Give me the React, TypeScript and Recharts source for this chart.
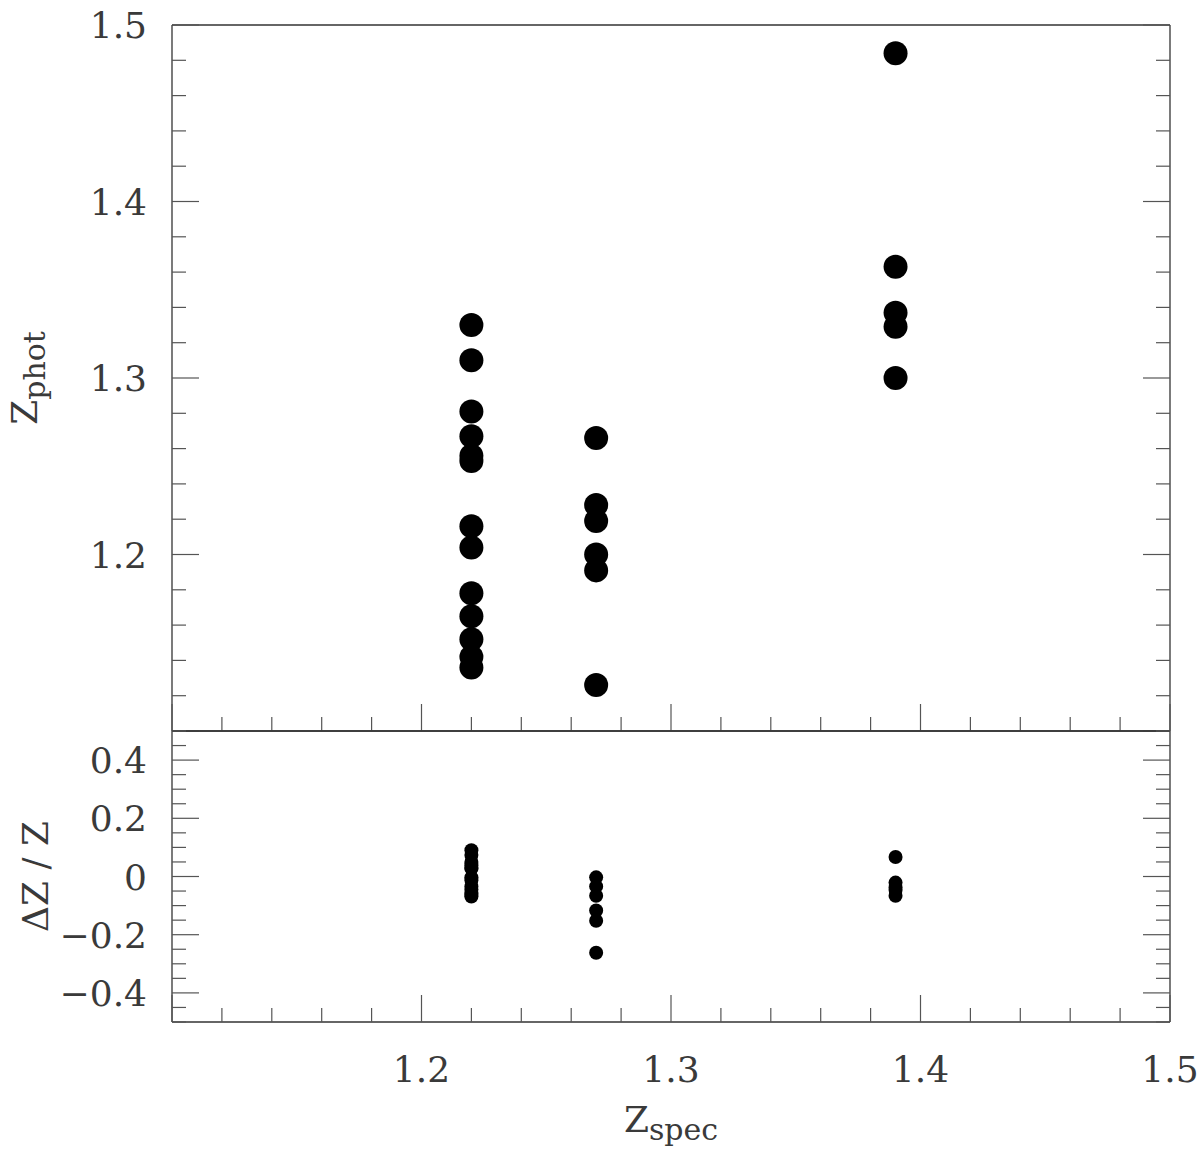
import React from "react";
import { ScatterChart, Scatter, XAxis, YAxis, Label } from "recharts";

// spectroscopic redshifts of the three groups
const zspecGroups = [1.22, 1.27, 1.39];

// photometric redshifts
const zphotAt122 = [1.33, 1.31, 1.281, 1.267, 1.256, 1.253, 1.216, 1.204, 1.178, 1.165, 1.152, 1.142, 1.136];
const zphotAt127 = [1.266, 1.228, 1.219, 1.2, 1.191, 1.126];
const zphotAt139 = [1.484, 1.363, 1.337, 1.329, 1.3];

// residuals
const dzAt122 = [0.09, 0.074, 0.05, 0.039, 0.03, 0.027, -0.003, -0.013, -0.034, -0.045, -0.056, -0.064, -0.069];
const dzAt127 = [-0.003, -0.034, -0.066, -0.117, -0.152, -0.262];
const dzAt139 = [0.067, -0.021, -0.038, -0.046, -0.066];

const zTicks = [1.1, 1.12, 1.14, 1.16, 1.18, 1.2, 1.22, 1.24, 1.26, 1.28, 1.3, 1.32, 1.34, 1.36, 1.38, 1.4, 1.42, 1.44, 1.46, 1.48, 1.5];
const zMajor = [1.1, 1.2, 1.3, 1.4, 1.5];
const zLabels = [1.2, 1.3, 1.4, 1.5];
const dzTicks = [-0.5, -0.45, -0.4, -0.35, -0.3, -0.25, -0.2, -0.15, -0.1, -0.05, 0, 0.05, 0.1, 0.15, 0.2, 0.25, 0.3, 0.35, 0.4, 0.45, 0.5];
const dzMajor = [-0.4, -0.2, 0, 0.2, 0.4];
const dzLabels = [-0.4, -0.2, 0, 0.2, 0.4];

const topPoints = [
  ...zphotAt122.map((y) => ({ x: zspecGroups[0], y })),
  ...zphotAt127.map((y) => ({ x: zspecGroups[1], y })),
  ...zphotAt139.map((y) => ({ x: zspecGroups[2], y })),
];
const bottomPoints = [
  ...dzAt122.map((y) => ({ x: zspecGroups[0], y })),
  ...dzAt127.map((y) => ({ x: zspecGroups[1], y })),
  ...dzAt139.map((y) => ({ x: zspecGroups[2], y })),
];

const FONT = "'DejaVu Serif', serif";
const INK = "#3a3a3a";
const FRAME = { stroke: "#333", strokeWidth: 1.3 };

const has = (arr: number[], v: number) => arr.some((m) => Math.abs(m - v) < 1e-9);
const fmt = (v: number) => (v < 0 ? "\u2212" + Math.abs(v) : String(v));

type Side = "left" | "right" | "top" | "bottom";

// ticks point inward; labels only on left / bottom
function tickFor(side: Side, major: number[], labels: number[] | null) {
  return (props: any) => {
    const { x, y, payload } = props;
    const v = Number(payload.value);
    const len = has(major, v) ? 27 : 14;
    let x2 = x;
    let y2 = y;
    if (side === "left") x2 = x + len;
    if (side === "right") x2 = x - len;
    if (side === "top") y2 = y + len;
    if (side === "bottom") y2 = y - len;
    const showLabel = labels && has(labels, v);
    return (
      <g>
        <line x1={x} y1={y} x2={x2} y2={y2} stroke="#555" strokeWidth={1.2} />
        {showLabel && side === "left" && (
          <text x={x - 25} y={y + 13} textAnchor="end" fontFamily={FONT} fontSize={36} fill={INK}>
            {fmt(v)}
          </text>
        )}
        {showLabel && side === "bottom" && (
          <text x={x} y={y + 60} textAnchor="middle" fontFamily={FONT} fontSize={36} fill={INK}>
            {fmt(v)}
          </text>
        )}
      </g>
    );
  };
}

const bigDot = (p: any) => <circle cx={p.cx} cy={p.cy} r={12} fill="#000" />;
const smallDot = (p: any) => <circle cx={p.cx} cy={p.cy} r={7} fill="#000" />;

const axisCommon = {
  type: "number" as const,
  tickSize: 0,
  tickMargin: 0,
  interval: 0 as const,
  allowDataOverflow: true,
  axisLine: FRAME,
  tickLine: false,
};

const zphotTitle = (props: any) => {
  const vb = props.viewBox;
  const cx = vb.x + 37;
  const cy = vb.y + vb.height / 2;
  return (
    <text x={cx} y={cy} transform={`rotate(-90, ${cx}, ${cy})`} textAnchor="middle" fontFamily={FONT} fontSize={36} fill={INK}>
      Z<tspan dy={8} fontSize={30}>phot</tspan>
    </text>
  );
};

const dzTitle = (props: any) => {
  const vb = props.viewBox;
  const cx = vb.x + 48;
  const cy = vb.y + vb.height / 2;
  return (
    <text x={cx} y={cy} transform={`rotate(-90, ${cx}, ${cy})`} textAnchor="middle" fontFamily={FONT} fontSize={36} fill={INK}>
      ΔZ / Z
    </text>
  );
};

const zspecTitle = (props: any) => {
  const vb = props.viewBox;
  const cx = vb.x + vb.width / 2;
  const cy = vb.y + 110;
  return (
    <text x={cx} y={cy} textAnchor="middle" fontFamily={FONT} fontSize={36} fill={INK}>
      Z<tspan dy={8} fontSize={30}>spec</tspan>
    </text>
  );
};

export default function App() {
  return (
    <div style={{ position: "absolute", left: 0, top: 0, width: 1200, height: 1152, background: "#fff" }}>
      <div style={{ position: "absolute", left: 0, top: 0 }}>
        <ScatterChart width={1200} height={732} margin={{ top: 0, right: 0, bottom: 0, left: 0 }}>
          <XAxis {...axisCommon} xAxisId="b" dataKey="x" orientation="bottom" height={1} domain={[1.1, 1.5]} ticks={zTicks} tick={tickFor("bottom", zMajor, null)} />
          <XAxis {...axisCommon} xAxisId="t" orientation="top" height={25} domain={[1.1, 1.5]} ticks={zTicks} tick={tickFor("top", zMajor, null)} />
          <YAxis {...axisCommon} yAxisId="l" dataKey="y" orientation="left" width={172} domain={[1.1, 1.5]} ticks={zTicks} tick={tickFor("left", zMajor, zLabels)}>
            <Label content={zphotTitle} />
          </YAxis>
          <YAxis {...axisCommon} yAxisId="r" orientation="right" width={30} domain={[1.1, 1.5]} ticks={zTicks} tick={tickFor("right", zMajor, null)} />
          <Scatter data={topPoints} xAxisId="b" yAxisId="l" shape={bigDot} isAnimationActive={false} />
        </ScatterChart>
      </div>
      <div style={{ position: "absolute", left: 0, top: 700 }}>
        <ScatterChart width={1200} height={452} margin={{ top: 0, right: 0, bottom: 0, left: 0 }}>
          <XAxis {...axisCommon} xAxisId="b" dataKey="x" orientation="bottom" height={130} domain={[1.1, 1.5]} ticks={zTicks} tick={tickFor("bottom", zMajor, zLabels)}>
            <Label content={zspecTitle} />
          </XAxis>
          <XAxis {...axisCommon} xAxisId="t" orientation="top" height={31} domain={[1.1, 1.5]} ticks={zTicks} tick={tickFor("top", zMajor, null)} />
          <YAxis {...axisCommon} yAxisId="l" dataKey="y" orientation="left" width={172} domain={[-0.5, 0.5]} ticks={dzTicks} tick={tickFor("left", dzMajor, dzLabels)}>
            <Label content={dzTitle} />
          </YAxis>
          <YAxis {...axisCommon} yAxisId="r" orientation="right" width={30} domain={[-0.5, 0.5]} ticks={dzTicks} tick={tickFor("right", dzMajor, null)} />
          <Scatter data={bottomPoints} xAxisId="b" yAxisId="l" shape={smallDot} isAnimationActive={false} />
        </ScatterChart>
      </div>
    </div>
  );
}
